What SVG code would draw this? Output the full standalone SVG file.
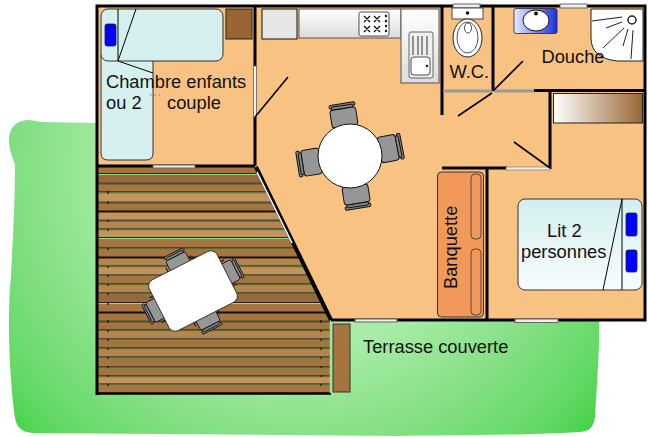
<svg xmlns="http://www.w3.org/2000/svg" width="648" height="437" viewBox="0 0 648 437">
<defs>
<radialGradient id="gr" gradientUnits="userSpaceOnUse" cx="300" cy="170" r="400"><stop offset="0" stop-color="#c8f4c4"/><stop offset=".45" stop-color="#a8ecA6"/><stop offset=".72" stop-color="#7fde80"/><stop offset=".88" stop-color="#62d964"/><stop offset="1" stop-color="#3dcf40"/></radialGradient>
<linearGradient id="bed" x1="0" y1="0" x2="0" y2="1"><stop offset="0" stop-color="#d3eeee"/><stop offset="1" stop-color="#f8fdfe"/></linearGradient>
<linearGradient id="cup" x1="0" y1="0" x2="1" y2="0"><stop offset="0" stop-color="#fff"/><stop offset="1" stop-color="#996633"/></linearGradient>
<linearGradient id="sink" x1="0" y1="0" x2="1" y2="0"><stop offset="0" stop-color="#e8ecff"/><stop offset="1" stop-color="#1a2fe0"/></linearGradient>
<linearGradient id="cnt" x1="0" y1="0" x2="0" y2="1"><stop offset="0" stop-color="#fff"/><stop offset="1" stop-color="#dcdcdc"/></linearGradient>
<clipPath id="deck"><path d="M98 167H256L331 320V393H98Z"/></clipPath>
<g id="chair"><rect x="-13" y="-21" width="26" height="18" rx="3" fill="#969696" stroke="#111"/><rect x="-13" y="-26" width="26" height="3.5" rx="1.5" fill="#888" stroke="#111"/><rect x="-11" y="-24" width="22" height="3" rx="1.5" fill="#888" stroke="#111"/></g>
<g id="chair2"><use href="#chair"/><path d="M-16 -14v9M16 -14v9" stroke="#222" stroke-width="1.5"/></g>
</defs>
<style>
.w{fill:none;stroke:#000;stroke-width:3}
.d{fill:none;stroke:#000;stroke-width:1.6}
.win{fill:#eee;stroke:#666;stroke-width:1}
.b{fill:#d6f0f0;stroke:#333;stroke-width:1}
.pl{fill:#00f;stroke:#222;stroke-width:.8}
.t{font-family:"Liberation Sans",Arial,sans-serif;font-size:18.3px;fill:#111}
.l{stroke:#000;stroke-width:1;fill:none}
.a{fill:#a5743f}.c{fill:#c4935c}.e{fill:#b5854f}.f{fill:#99683a}
</style>
<g id="terrain"><path d="M27 120C33 120 38 122 43 122L100 123H598C601 145 600 270 599 343C598 370 596 400 595 417C593 428 590 431 580 432C500 436 450 435 397 436L33 433C22 432 17 428 15 418C11 390 9 350 9 327C9 300 10 285 11 277C12 250 15 210 15 165C12 155 9 150 9 140C9 128 16 121 27 120Z" fill="url(#gr)"/></g>
<g id="terrasse">
<g clip-path="url(#deck)">
<rect class="a" x="98" y="167" width="240" height="7"/><rect class="f" x="98" y="174" width="240" height="9"/><rect class="a" x="98" y="183" width="240" height="9"/><rect class="c" x="98" y="192" width="240" height="10"/><rect class="a" x="98" y="202" width="240" height="9"/><rect class="c" x="98" y="211" width="240" height="9"/><rect class="e" x="98" y="220" width="240" height="9"/><rect class="c" x="98" y="229" width="240" height="9"/><rect class="a" x="98" y="238" width="240" height="19"/><rect class="e" x="98" y="257" width="240" height="9"/><rect class="c" x="98" y="266" width="240" height="9"/><rect class="a" x="98" y="275" width="240" height="9"/><rect class="e" x="98" y="284" width="240" height="9"/><rect class="f" x="98" y="293" width="240" height="10"/><rect class="a" x="98" y="303" width="240" height="27"/><rect class="e" x="98" y="330" width="240" height="9"/><rect class="a" x="98" y="339" width="240" height="9"/><rect class="e" x="98" y="348" width="240" height="9"/><rect class="a" x="98" y="357" width="240" height="19"/><rect class="c" x="98" y="376" width="240" height="8"/><rect class="a" x="98" y="384" width="240" height="9"/>
<path d="M98 192H338M98 229H338M98 248H338M98 266H338M98 275H338M98 284H338M98 293H338M98 330H338M98 339H338M98 348H338M98 357H338M98 367H338M98 376H338M98 384H338" stroke="#111" stroke-width="1"/>
<path d="M98 193H338M98 230H338M98 249H338M98 267H338M98 276H338M98 285H338M98 294H338M98 331H338M98 340H338M98 349H338M98 358H338M98 368H338M98 377H338M98 385H338" stroke="#63914f" stroke-width="1"/>
<path d="M98 174.500H338M98 238.500H338M98 303.500H338" stroke="#8fe08c" stroke-width="1"/>
<path d="M98 173.500H338M98 237.500H338M98 302.500H338" stroke="#222" stroke-width="1"/>
<path d="M98 202.500H338M98 220.500H338M98 321.500H338M98 183.500H338" stroke="#46503a" stroke-width="1.800"/>
<path d="M98 211.500H338M98 257.500H338M98 312.500H338" stroke="#111" stroke-width="1.800"/>
<path d="M108 191v3M108 201v3M108 220v2M108 229v2M108 248v2M108 266v2M108 275v2M108 284v2M108 293v2M108 303v2M108 320v3M108 330v2M108 339v2M108 348v2M108 357v2M108 366v2M108 375v2M108 384v2M321 320v3M321 330v2M321 339v2M321 348v2M321 357v2M321 366v2M321 375v2M321 384v2" stroke="#111" stroke-width="1.200"/>
</g>
<path d="M98 393.500H331" stroke="#000" stroke-width="2.500"/>
<path d="M97 166V395" class="w"/>
<path d="M330.500 320V393" stroke="#9be696" stroke-width="1.500"/>
</g>
<g id="sol"><path d="M97 6H645V320H331L255 166H97Z" fill="#f8c283"/></g>
<g id="murs">
<path class="w" d="M97 166V6H645V320H331"/>
<path class="w" d="M97 166H255"/>
<path class="w" d="M255 6V166M442 6V115M493 6V91M534 90.500H645M550 90V169M442 168H507M487 168V320"/>
<path d="M256 167L331 320" stroke="#000" stroke-width="4" fill="none"/>
<path d="M257 172L292 243" stroke="#fff" stroke-width="1.600" fill="none"/>
<path d="M253.500 66h3v51h-3z" fill="#f2f2f2" stroke="#555" stroke-width=".6"/>
<rect class="win" x="153" y="165" width="42" height="3"/>
<rect class="win" x="453" y="4" width="27" height="4"/>
<rect class="win" x="560" y="4" width="27" height="4"/>
<rect class="win" x="515" y="319" width="43" height="3.500"/>
<rect class="win" x="355" y="319" width="42" height="3"/>
<rect x="443" y="89.500" width="49" height="3" fill="#999"/>
<rect x="494" y="89.500" width="40" height="3" fill="#999"/>
<rect x="506" y="167" width="44" height="3" fill="#eee" stroke="#555" stroke-width=".5"/>
<path class="d" d="M255 117L288 77M493 91L523 61M492 93L458 116M550 168L514 142"/>
</g>
<g id="lit-enfants">
<path class="b" d="M101 55H153V153Q153 160 146 160H108Q101 160 101 153Z"/>
<rect class="b" x="101" y="9" width="122" height="52" rx="7"/>
<path class="l" d="M118 9V61L136 9M118 61L153 73"/>
<rect class="pl" x="105" y="24" width="11" height="22" rx="2"/>
</g>
<g id="placard-enfants"><rect x="226" y="9" width="26" height="30" fill="#996633" stroke="#222" stroke-width="1"/></g>
<g id="cuisine">
<rect x="262" y="9" width="35" height="30" fill="#e6e6e6" stroke="#111" stroke-width="1"/>
<rect x="299" y="9" width="102" height="29" fill="url(#cnt)" stroke="#555" stroke-width="1"/>
<rect x="359" y="12" width="30" height="24" rx="2" fill="#fff" stroke="#222" stroke-width=".8"/>
<g stroke="#111" stroke-width="1.300"><path d="M364 16l6 6m0-6l-6 6M374 16l6 6m0-6l-6 6M364 26l6 6m0-6l-6 6M374 26l6 6m0-6l-6 6"/></g>
<g fill="#111"><circle cx="386" cy="16" r="1.200"/><circle cx="386" cy="21" r="1.200"/><circle cx="386" cy="26" r="1.200"/><circle cx="386" cy="31" r="1.200"/></g>
<rect x="401" y="9" width="38" height="74" fill="url(#cnt)" stroke="#555" stroke-width="1"/>
<rect x="409" y="32" width="24" height="46" rx="2" fill="#eee" stroke="#444" stroke-width=".8"/>
<path d="M413 36V55M418 36V55M422 36V55M427 36V55" stroke="#333" stroke-width="1"/>
<rect x="411" y="57" width="19" height="18" rx="3" fill="#fff" stroke="#222" stroke-width=".8"/>
<circle cx="427" cy="66" r="1.200" fill="#111"/>
</g>
<g id="table-ronde">
<use href="#chair" transform="translate(350 156) rotate(-9) translate(0 -27)"/>
<use href="#chair" transform="translate(350 156) rotate(79) translate(0 -27)"/>
<use href="#chair" transform="translate(350 156) rotate(171) translate(0 -27)"/>
<use href="#chair" transform="translate(350 156) rotate(261) translate(0 -27)"/>
<circle cx="350" cy="156" r="32" fill="#fff" stroke="#111" stroke-width="1"/>
</g>
<g id="wc">
<rect x="452" y="8" width="31" height="11" fill="#fff" stroke="#222" stroke-width=".8"/><circle cx="467.500" cy="13" r="1.800" fill="#111"/>
<ellipse cx="467.500" cy="38" rx="14.500" ry="19" fill="#fff" stroke="#222"/><ellipse cx="467.500" cy="37.500" rx="10.500" ry="15.500" fill="#fff" stroke="#222" stroke-width=".8"/><ellipse cx="468" cy="28" rx="3.500" ry="5" fill="#fff" stroke="#222" stroke-width=".8"/>
</g>
<g id="lavabo"><rect x="514" y="8.500" width="43" height="25" rx="2" fill="url(#sink)" stroke="#223" stroke-width=".8"/><ellipse cx="536" cy="20.500" rx="13" ry="10.500" fill="#fff" stroke="#111"/><circle cx="536" cy="13.500" r="2" fill="#111"/></g>
<g id="douche">
<path d="M591 9H643V61H617Q591 58 591 38Z" fill="#fff" stroke="#222" stroke-width="1"/>
<circle cx="632" cy="20" r="4" fill="#fff" stroke="#222" stroke-width="1.500"/>
<path d="M592 21L622 17M606 28L622 22M603 48L624 28M623 46L628 29M631 59L633 30" stroke="#222" stroke-width="1" fill="none"/>
</g>
<g id="placard-parents"><rect x="553.500" y="93.500" width="89" height="29.500" fill="url(#cup)" stroke="#222" stroke-width="1"/></g>
<g id="lit-parents">
<rect x="518" y="199" width="124" height="91" rx="7" fill="url(#bed)" stroke="#333" stroke-width="1"/>
<path class="l" d="M622 199V290M622 199L603 290"/>
<rect class="pl" x="626" y="213" width="11" height="23" rx="2"/><rect class="pl" x="626" y="250" width="11" height="22" rx="2"/>
</g>
<g id="banquette">
<rect x="437.500" y="172" width="46" height="145" rx="4" fill="#f0995a" stroke="#333" stroke-width="1"/>
<rect x="471" y="174" width="10" height="65" rx="4" fill="#f0995a" stroke="#333" stroke-width=".8"/>
<rect x="471" y="249" width="10" height="66" rx="4" fill="#f0995a" stroke="#333" stroke-width=".8"/>
</g>
<g id="table-rect">
<use href="#chair2" transform="translate(193 291) rotate(-27) translate(0 -21) scale(.85)"/>
<use href="#chair2" transform="translate(193 291) rotate(63) translate(0 -30) scale(.85)"/>
<use href="#chair2" transform="translate(193 291) rotate(153) translate(0 -21) scale(.85)"/>
<use href="#chair2" transform="translate(193 291) rotate(243) translate(0 -30) scale(.85)"/>
<rect x="-38" y="-28.500" width="76" height="57" rx="7" transform="translate(193 291) rotate(-27)" fill="#fff" stroke="#222" stroke-width=".8"/>
</g>
<g id="banc"><rect x="333" y="324" width="17" height="68" fill="#a5743f" stroke="#333" stroke-width="1"/></g>
<g id="textes">
<text class="t" x="106" y="88">Chambre enfants</text>
<text class="t" x="106" y="109">ou 2</text>
<text class="t" x="167" y="109">couple</text>
<text x="156" y="97.500" font-family="Liberation Sans,sans-serif" font-size="6" letter-spacing="2" fill="#888" text-anchor="middle">***</text>
<text class="t" x="449.500" y="78">W.C.</text>
<text class="t" x="541.500" y="63">Douche</text>
<text class="t" x="547" y="237">Lit 2</text>
<text class="t" x="521" y="258">personnes</text>
<text class="t" transform="translate(457 289) rotate(-90)">Banquette</text>
<text class="t" x="363" y="353">Terrasse couverte</text>
</g>
</svg>
